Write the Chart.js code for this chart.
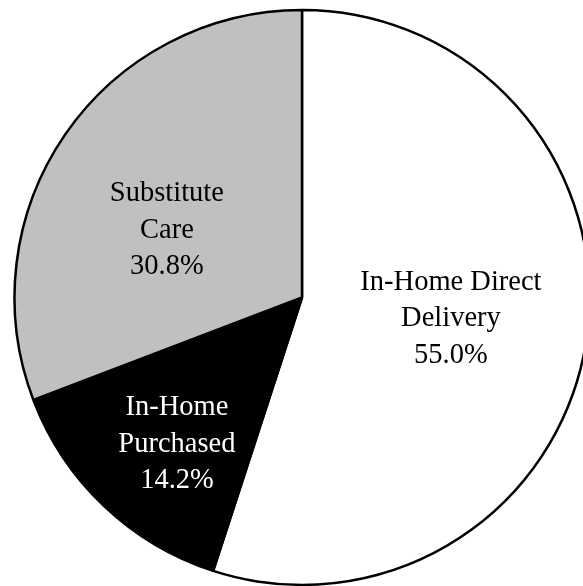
<!DOCTYPE html>
<html>
<head>
<meta charset="utf-8">
<script src="https://cdn.jsdelivr.net/npm/chart.js@4"></script>
<style>
    html, body { margin: 0; padding: 0; background: #fff; overflow: hidden; width: 583px; height: 586px; }
    #wrap { position: absolute; left: 0; top: 0; width: 604px; height: 595px; }
</style>
</head>
<body>
<div id="wrap"><canvas id="pieChart"></canvas></div>
<script>
// Slice data, clockwise from 12 o'clock
const categories = [
    ['In-Home Direct', 'Delivery'],
    ['In-Home', 'Purchased'],
    ['Substitute', 'Care']
];
const shares = [55.0, 14.2, 30.8];
const sliceColors = ['#ffffff', '#000000', '#c0c0c0'];
const textColors = ['#000000', '#ffffff', '#000000'];

// Draw the text labels inside each slice
const sliceLabels = {
    id: 'sliceLabels',
    afterDatasetsDraw(chart) {
        const ctx = chart.ctx;
        const meta = chart.getDatasetMeta(0);
        // label block centre, as a fraction of the radius from the pie centre
        const offsets = [[0.518, 0.074], [-0.435, 0.51], [-0.47, -0.234]];
        const lineGap = 36.5;
        ctx.save();
        ctx.font = '28.5px "Liberation Serif", "Times New Roman", serif';
        ctx.textAlign = 'center';
        ctx.textBaseline = 'middle';
        meta.data.forEach((arc, i) => {
            const r = arc.outerRadius;
            const cx = arc.x + offsets[i][0] * r;
            const cy = arc.y + offsets[i][1] * r;
            const lines = categories[i].concat(shares[i].toFixed(1) + '%');
            ctx.fillStyle = textColors[i];
            lines.forEach((line, j) => {
                ctx.fillText(line, cx, cy + (j - (lines.length - 1) / 2) * lineGap);
            });
        });
        ctx.restore();
    }
};

new Chart(document.getElementById('pieChart'), {
    type: 'pie',
    data: {
        labels: categories.map(c => c.join(' ')),
        datasets: [{
            data: shares,
            backgroundColor: sliceColors,
            borderColor: '#000000',
            borderWidth: 2.5
        }]
    },
    options: {
        responsive: true,
        maintainAspectRatio: false,
        animation: false,
        radius: 287.5,
        layout: { padding: 0 },
        plugins: {
            legend: { display: false },
            tooltip: { enabled: false }
        }
    },
    plugins: [sliceLabels]
});
</script>
</body>
</html>
